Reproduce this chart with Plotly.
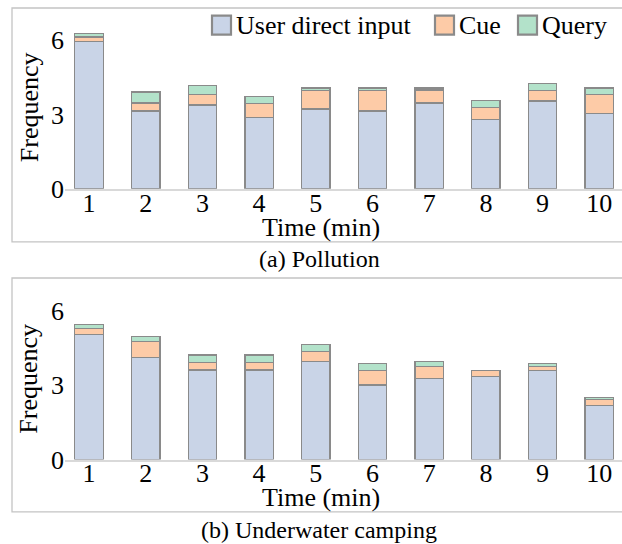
import plotly.graph_objects as go

# ---------------- data ----------------
minutes = [1, 2, 3, 4, 5, 6, 7, 8, 9, 10]
series_names = ["User direct input", "Cue", "Query"]

pollution_user = [5.95, 3.14, 3.38, 2.88, 3.22, 3.14, 3.46, 2.80, 3.54, 3.04]
pollution_cue = [0.18, 0.32, 0.43, 0.57, 0.75, 0.83, 0.53, 0.48, 0.43, 0.77]
pollution_query = [0.15, 0.45, 0.35, 0.28, 0.10, 0.10, 0.08, 0.27, 0.27, 0.26]

camping_user = [5.05, 4.11, 3.62, 3.62, 3.95, 3.01, 3.28, 3.36, 3.61, 2.19]
camping_cue = [0.25, 0.67, 0.31, 0.31, 0.41, 0.60, 0.49, 0.25, 0.16, 0.24]
camping_query = [0.17, 0.19, 0.29, 0.29, 0.28, 0.27, 0.18, 0.00, 0.11, 0.08]

y_ticks = [0, 3, 6]
captions = ["(a) Pollution", "(b) Underwater camping"]
x_title = "Time (min)"
y_title = "Frequency"

# ---------------- style ----------------
W = 622
REF_H = 544
H = 560                 # page height; vertical pixel positions below are given in 544-px space
S = H / REF_H
FONT = "Liberation Serif"
colors = ["#c9d4e7", "#fdcba7", "#b3e2ca"]
edge = "#8a8a8a"

def px(x):
    return x / W

def py(y):
    return 1 - (y * S) / H

fig = go.Figure()

panels = [
    (pollution_user, pollution_cue, pollution_query),
    (camping_user, camping_cue, camping_query),
]
axis_ids = [("x", "y"), ("x2", "y2")]
for (vals, (xa, ya)) in zip(panels, axis_ids):
    for name, v, c in zip(series_names, vals, colors):
        fig.add_trace(go.Bar(
            x=minutes, y=v, name=name, xaxis=xa, yaxis=ya,
            width=0.5, marker=dict(color=c, line=dict(color=edge, width=1.3)),
            showlegend=False,
        ))

# panel geometry (pixels)
panel_base = [188.3, 458.7]   # y pixel of value 0
unit = 24.7                    # pixels per unit
y_max = 7.0
x_left, x_right = 65, 622
x_range = [0.577, 10.40]

common_x = dict(
    range=x_range, tickmode="array", tickvals=minutes, ticktext=[str(m) for m in minutes],
    showline=True, linecolor="#d9d9d9", linewidth=1.5, showgrid=False, zeroline=False,
    ticks="", ticklabelstandoff=-10, tickfont=dict(family=FONT, size=26, color="#000"),
)
common_y = dict(
    range=[0, y_max], tickmode="array", tickvals=y_ticks, ticktext=[str(t) for t in y_ticks],
    showline=False, showgrid=False, zeroline=False, ticks="",
    tickfont=dict(family=FONT, size=26, color="#000"),
)

doms = []
for b in panel_base:
    doms.append([py(b), py(b - y_max * unit)])

fig.update_layout(
    width=W, height=H, margin=dict(l=0, r=0, t=0, b=0),
    paper_bgcolor="white", plot_bgcolor="white",
    barmode="stack", showlegend=False,
    font=dict(family=FONT, size=26, color="#000"),
    xaxis=dict(domain=[px(x_left), px(x_right)], anchor="y", **common_x),
    yaxis=dict(domain=doms[0], anchor="x", **common_y),
    xaxis2=dict(domain=[px(x_left), px(x_right)], anchor="y2", **common_x),
    yaxis2=dict(domain=doms[1], anchor="x2", **common_y),
)

shapes = []
annotations = []
# frames around each panel
frames = [(12, 8, 241.5), (12, 277.5, 511)]
for (x0, y0, y1) in frames:
    shapes.append(dict(type="rect", xref="paper", yref="paper",
                       x0=px(x0), x1=px(W + 5), y0=py(y1), y1=py(y0),
                       line=dict(color="#c4c4c4", width=1.3), fillcolor="rgba(0,0,0,0)"))

# axis titles and captions
title_pos = [(227, 107, 259), (497, 378, 529)]
for i, (xt_y, yt_y, cap_y) in enumerate(title_pos):
    annotations.append(dict(text=x_title, x=px(321), y=py(xt_y), xref="paper", yref="paper",
                            showarrow=False, xanchor="center", yanchor="middle",
                            font=dict(family=FONT, size=26, color="#000")))
    annotations.append(dict(text=y_title, x=px(29), y=py(yt_y), xref="paper", yref="paper",
                            showarrow=False, xanchor="center", yanchor="middle", textangle=-90,
                            font=dict(family=FONT, size=26, color="#000")))
    annotations.append(dict(text=captions[i], x=px(319), y=py(cap_y), xref="paper", yref="paper",
                            showarrow=False, xanchor="center", yanchor="middle",
                            font=dict(family=FONT, size=24, color="#000")))

# custom legend (top panel)
leg_x = [212, 435, 518]
leg_y = 25
sw = 19
for name, c, lx in zip(series_names, colors, leg_x):
    shapes.append(dict(type="rect", xref="paper", yref="paper",
                       x0=px(lx), x1=px(lx + sw), y0=py(leg_y + sw / 2), y1=py(leg_y - sw / 2),
                       line=dict(color=edge, width=2.2), fillcolor=c))
    annotations.append(dict(text=name, x=px(lx + sw + 3), y=py(leg_y), xref="paper", yref="paper",
                            showarrow=False, xanchor="left", yanchor="middle",
                            font=dict(family=FONT, size=26, color="#000")))

fig.update_layout(shapes=shapes, annotations=annotations)

fig.write_html(
    "out.html",
    config={"displayModeBar": False},
    post_script=(
        "var s=document.documentElement.style;s.margin='0';s.padding='0';"
        "var b=document.body.style;b.margin='0';b.padding='0';"
    ),
)
